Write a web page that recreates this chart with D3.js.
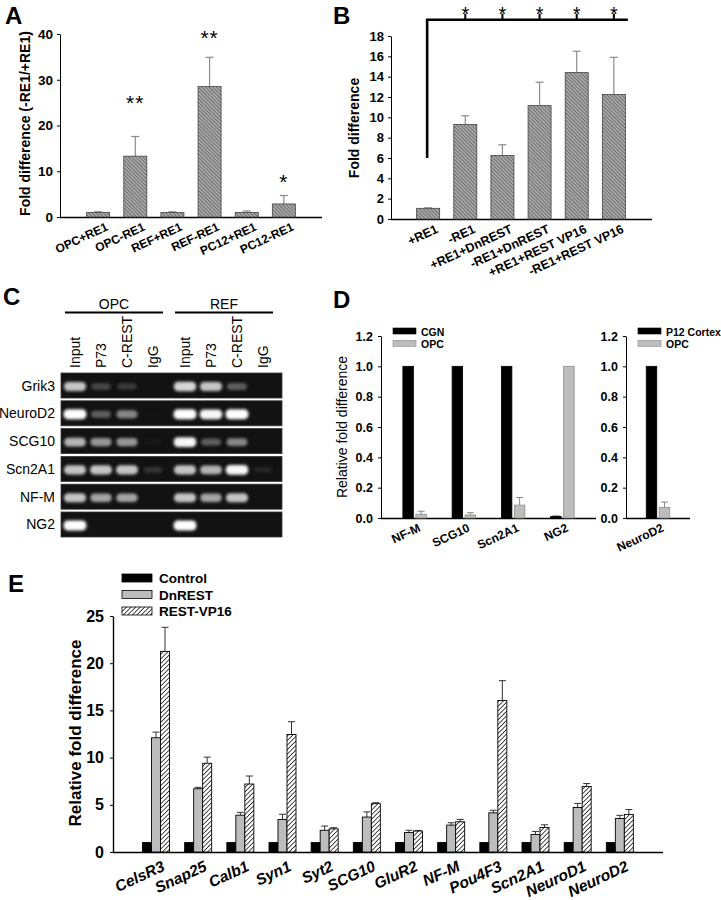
<!DOCTYPE html>
<html><head><meta charset="utf-8">
<script src="https://cdn.jsdelivr.net/npm/d3@7"></script>
<style>
body{margin:0;background:#fff}
svg{display:block}
text{font-family:Arial,"Liberation Sans",sans-serif;fill:#000}
</style>
</head><body>
<svg id="fig" width="721" height="900"></svg>
<script>
// ---------------- DATA ----------------
// Panel A
const catsA = ["OPC+RE1","OPC-RE1","REF+RE1","REF-RE1","PC12+RE1","PC12-RE1"];
const valsA = [1.0, 13.3, 1.0, 28.5, 1.0, 2.85];
const errTopA = [1.15, 17.6, 1.15, 34.9, 1.3, 4.7];
const starsA = ["", "**", "", "**", "", "*"];
const starLevelA = [null, 26.0, null, 40.3, null, 8.8];
const ticksA = [0, 10, 20, 30, 40];

// Panel B
const catsB = ["+RE1","-RE1","+RE1+DnREST","-RE1+DnREST","+RE1+REST VP16","-RE1+REST VP16"];
const valsB = [1.05, 9.3, 6.25, 11.15, 14.4, 12.25];
const errTopB = [1.1, 10.15, 7.3, 13.45, 16.5, 15.9];
const ticksB = [0, 2, 4, 6, 8, 10, 12, 14, 16, 18];
const bracketLowB = 6.0, bracketTopB = 19.6;

// Panel C (gel band intensities, 0..1)
const groupsC = ["OPC", "REF"];
const lanesC = ["Input", "P73", "C-REST", "IgG"];
const genesC = ["Grik3", "NeuroD2", "SCG10", "Scn2A1", "NF-M", "NG2"];
const bandsC = [
  [0.85, 0.4, 0.35, 0.0, 0.9, 0.85, 0.5, 0.0],
  [1.0, 0.5, 0.65, 0.05, 1.0, 0.95, 1.0, 0.0],
  [0.8, 0.7, 0.7, 0.1, 0.95, 0.5, 0.65, 0.0],
  [0.85, 0.85, 0.85, 0.3, 0.85, 0.8, 0.95, 0.22],
  [0.85, 0.75, 0.75, 0.0, 0.85, 0.75, 0.85, 0.0],
  [1.0, 0.0, 0.0, 0.0, 1.0, 0.0, 0.0, 0.0]
];

// Panel D
const catsD = ["NF-M", "SCG10", "Scn2A1", "NG2"];
const seriesD = ["CGN", "OPC"];
const cgnD = [1.0, 1.0, 1.0, 0.01];
const opcD = [0.025, 0.02, 0.085, 1.0];
const cgnErrTopD = [null, null, null, 0.015];
const opcErrTopD = [0.045, 0.035, 0.135, null];
const catsD2 = ["NeuroD2"];
const seriesD2 = ["P12 Cortex", "OPC"];
const cortexD2 = [1.0];
const opcD2 = [0.07];
const opcErrTopD2 = [0.105];
const ticksD = [0, 0.2, 0.4, 0.6, 0.8, 1.0, 1.2];

// Panel E
const genesE = ["CelsR3","Snap25","Calb1","Syn1","Syt2","SCG10","GluR2","NF-M","Pou4F3","Scn2A1","NeuroD1","NeuroD2"];
const seriesE = ["Control", "DnREST", "REST-VP16"];
const controlE = [1,1,1,1,1,1,1,1,1,1,1,1];
const dnrestE = [12.1, 6.7, 3.9, 3.45, 2.3, 3.7, 2.07, 2.85, 4.15, 1.85, 4.72, 3.55];
const dnrestErrE = [12.7, 6.85, 4.2, 4.0, 2.75, 4.25, 2.3, 3.1, 4.42, 2.18, 5.15, 3.88];
const vp16E = [21.25, 9.4, 7.2, 12.45, 2.45, 5.12, 2.22, 3.2, 16.05, 2.6, 6.95, 3.98];
const vp16ErrE = [23.8, 10.05, 8.05, 13.8, 2.58, 5.22, 2.28, 3.45, 18.15, 2.88, 7.25, 4.5];
const ticksE = [0, 5, 10, 15, 20, 25];

// ---------------- DRAWING ----------------
const svg = d3.select("#fig");
svg.append("rect").attr("width", 721).attr("height", 900).attr("fill", "#fff");
const defs = svg.append("defs");

function hatch(id, bg, fg, size, sw, angle) {
  const p = defs.append("pattern").attr("id", id).attr("patternUnits", "userSpaceOnUse")
    .attr("width", size).attr("height", size).attr("patternTransform", `rotate(${angle})`);
  p.append("rect").attr("width", size).attr("height", size).attr("fill", bg);
  p.append("line").attr("x1", 0).attr("y1", 0).attr("x2", 0).attr("y2", size)
    .attr("stroke", fg).attr("stroke-width", sw);
}
hatch("hatchAB", "#a9a9a9", "#4a4a4a", 2.6, 1.2, -45);
hatch("hatchE", "#ffffff", "#111111", 3.2, 1.5, 45);

const blur = defs.append("filter").attr("id", "bandBlur").attr("x", "-50%").attr("y", "-100%")
  .attr("width", "200%").attr("height", "300%");
blur.append("feGaussianBlur").attr("stdDeviation", 1.5);

function panelLetter(t, x, y) {
  svg.append("text").attr("x", x).attr("y", y).attr("font-size", 24).attr("font-weight", "bold").text(t);
}

function styleAxis(g, size, bold) {
  g.selectAll("text").attr("font-size", size).attr("font-weight", bold ? "bold" : "normal")
    .attr("font-family", "Arial, 'Liberation Sans', sans-serif").attr("fill", "#000");
  g.selectAll("path,line").attr("stroke", "#000");
}

// ---- Panel A ----
panelLetter("A", 5, 24);
{
  const y = d3.scaleLinear().domain([0, 40]).range([217, 34]);
  const x = d3.scaleBand().domain(catsA).range([61, 321]).paddingInner(0.38).paddingOuter(0.69);
  const g = svg.append("g");
  const ya = g.append("g").attr("transform", "translate(60,0)")
    .call(d3.axisLeft(y).tickValues(ticksA).tickSize(3).tickPadding(4).tickSizeOuter(0));
  styleAxis(ya, 13.5, true);
  g.append("line").attr("x1", 60).attr("x2", 322).attr("y1", 217.5).attr("y2", 217.5)
    .attr("stroke", "#000").attr("stroke-width", 1.3);
  catsA.forEach((c, i) => {
    const cx = x(c) + x.bandwidth() / 2;
    g.append("line").attr("x1", cx).attr("x2", cx).attr("y1", y(valsA[i])).attr("y2", y(errTopA[i]))
      .attr("stroke", "#8a8a8a").attr("stroke-width", 1.2);
    g.append("line").attr("x1", cx - 4).attr("x2", cx + 4).attr("y1", y(errTopA[i])).attr("y2", y(errTopA[i]))
      .attr("stroke", "#8a8a8a").attr("stroke-width", 1.2);
  });
  g.selectAll("rect.bar").data(catsA).join("rect").attr("class", "bar")
    .attr("x", d => x(d)).attr("width", x.bandwidth())
    .attr("y", (d, i) => y(valsA[i])).attr("height", (d, i) => y(0) - y(valsA[i]))
    .attr("fill", "url(#hatchAB)").attr("stroke", "#444").attr("stroke-width", 0.8);
  catsA.forEach((c, i) => {
    if (!starsA[i]) return;
    const cx = x(c) + x.bandwidth() / 2;
    g.append("text").attr("x", cx).attr("y", y(starLevelA[i]) + 12).attr("text-anchor", "middle")
      .attr("font-size", 21).attr("letter-spacing", 1).attr("fill", "#222").text(starsA[i]);
  });
  catsA.forEach((c, i) => {
    const cx = x(c) + x.bandwidth() / 2;
    g.append("text").attr("transform", `translate(${cx + 7},${222}) rotate(-25)`)
      .attr("text-anchor", "end").attr("dy", "0.71em").attr("font-size", 12).attr("font-weight", "bold").text(c);
  });
  g.append("text").attr("transform", `translate(30,${(34 + 217) / 2 - 2}) rotate(-90)`)
    .attr("text-anchor", "middle").attr("font-size", 14).attr("font-weight", "bold")
    .text("Fold difference (-RE1/+RE1)");
}

// ---- Panel B ----
panelLetter("B", 333, 24);
{
  const y = d3.scaleLinear().domain([0, 18]).range([219, 36]);
  const x = d3.scaleBand().domain(catsB).range([391, 651]).paddingInner(0.38).paddingOuter(0.69);
  const g = svg.append("g");
  const ya = g.append("g").attr("transform", "translate(391,0)")
    .call(d3.axisLeft(y).tickValues(ticksB).tickSize(3).tickPadding(4).tickSizeOuter(0));
  styleAxis(ya, 13, true);
  g.append("line").attr("x1", 391).attr("x2", 652).attr("y1", 219.5).attr("y2", 219.5)
    .attr("stroke", "#000").attr("stroke-width", 1.3);
  catsB.forEach((c, i) => {
    const cx = x(c) + x.bandwidth() / 2;
    g.append("line").attr("x1", cx).attr("x2", cx).attr("y1", y(valsB[i])).attr("y2", y(errTopB[i]))
      .attr("stroke", "#8a8a8a").attr("stroke-width", 1.2);
    g.append("line").attr("x1", cx - 4).attr("x2", cx + 4).attr("y1", y(errTopB[i])).attr("y2", y(errTopB[i]))
      .attr("stroke", "#8a8a8a").attr("stroke-width", 1.2);
  });
  g.selectAll("rect.bar").data(catsB).join("rect").attr("class", "bar")
    .attr("x", d => x(d)).attr("width", x.bandwidth())
    .attr("y", (d, i) => y(valsB[i])).attr("height", (d, i) => y(0) - y(valsB[i]))
    .attr("fill", "url(#hatchAB)").attr("stroke", "#444").attr("stroke-width", 0.8);
  // bracket
  const bx0 = x(catsB[0]) + x.bandwidth() / 2 - 1;
  const bx1 = x(catsB[5]) + x.bandwidth() / 2 + 14;
  g.append("path").attr("d", `M${bx0},${y(bracketLowB)}V${y(bracketTopB)}H${bx1}`)
    .attr("fill", "none").attr("stroke", "#000").attr("stroke-width", 2.6);
  catsB.slice(1).forEach(c => {
    const cx = x(c) + x.bandwidth() / 2;
    g.append("line").attr("x1", cx).attr("x2", cx).attr("y1", y(bracketTopB)).attr("y2", y(bracketTopB) - 6)
      .attr("stroke", "#000").attr("stroke-width", 2);
    g.append("text").attr("x", cx).attr("y", y(bracketTopB) + 1).attr("text-anchor", "middle")
      .attr("font-size", 20).attr("fill", "#222").text("*");
  });
  catsB.forEach((c, i) => {
    const cx = x(c) + x.bandwidth() / 2;
    g.append("text").attr("transform", `translate(${cx + 7},${224}) rotate(-25)`)
      .attr("text-anchor", "end").attr("dy", "0.71em").attr("font-size", 12.5).attr("font-weight", "bold").text(c);
  });
  g.append("text").attr("transform", `translate(359,128) rotate(-90)`)
    .attr("text-anchor", "middle").attr("font-size", 14).attr("font-weight", "bold").text("Fold difference");
}

// ---- Panel C (gel) ----
panelLetter("C", 3, 305);
{
  const gx = d3.scaleBand().domain(groupsC).range([62, 276]).paddingInner(0.055);
  const lx = d3.scaleBand().domain(lanesC).range([0, gx.bandwidth()]);
  const ry = d3.scaleBand().domain(genesC).range([373, 537]).paddingInner(0.1);
  const g = svg.append("g");
  groupsC.forEach(gr => {
    const x0 = gx(gr);
    g.append("text").attr("x", x0 + gx.bandwidth() / 2).attr("y", 309).attr("text-anchor", "middle")
      .attr("font-size", 14).text(gr);
    g.append("line").attr("x1", x0 + 3).attr("x2", x0 + gx.bandwidth() - 3).attr("y1", 312.5).attr("y2", 312.5)
      .attr("stroke", "#000").attr("stroke-width", 2.2);
    lanesC.forEach(l => {
      const cx = x0 + lx(l) + lx.bandwidth() / 2;
      g.append("text").attr("transform", `translate(${cx + 5},368) rotate(-90)`)
        .attr("font-size", 14).text(l);
    });
  });
  genesC.forEach((gene, r) => {
    const y0 = ry(gene), h = ry.bandwidth();
    g.append("rect").attr("x", 61).attr("y", y0).attr("width", 221).attr("height", h)
      .attr("fill", "#121212").attr("stroke", "#3a3a3a").attr("stroke-width", 0.8);
    g.append("text").attr("x", 55).attr("y", y0 + h / 2 + 5).attr("text-anchor", "end")
      .attr("font-size", 14).text(gene);
    groupsC.forEach((gr, gi) => {
      lanesC.forEach((l, li) => {
        const v = bandsC[r][gi * 4 + li];
        if (v <= 0) return;
        const cx = gx(gr) + lx(l) + lx.bandwidth() / 2;
        const w = 17 + 6 * v;
        const hh = 4 + 6 * v;
        g.append("rect").attr("x", cx - w / 2).attr("y", y0 + h / 2 - hh / 2 + 1)
          .attr("width", w).attr("height", hh).attr("rx", 4).attr("ry", hh / 2)
          .attr("fill", v > 0.9 ? "#fff" : "#f0f0f0").attr("opacity", Math.min(1, Math.pow(v, 1.6) * 1.05))
          .attr("filter", "url(#bandBlur)");
      });
    });
  });
}

// ---- Panel D ----
panelLetter("D", 333, 308);
{
  const y = d3.scaleLinear().domain([0, 1.2]).range([518, 336]);
  const g = svg.append("g");
  function drawBars(cats, xs, s1, s2, e1, e2, axisX, axisEnd, sNames, legendX) {
    const inner = d3.scaleBand().domain(sNames).range([xs.bandwidth() / 2 - 13, xs.bandwidth() / 2 + 13]);
    const bw = 10.5;
    const ya = g.append("g").attr("transform", `translate(${axisX},0)`)
      .call(d3.axisLeft(y).tickValues(ticksD).tickFormat(d3.format(".1f")).tickSize(3).tickPadding(5).tickSizeOuter(0));
    styleAxis(ya, 12.5, true);
    g.append("line").attr("x1", axisX).attr("x2", axisEnd).attr("y1", 518.5).attr("y2", 518.5)
      .attr("stroke", "#000").attr("stroke-width", 1.3);
    cats.forEach((c, i) => {
      [[s1, e1, "#000", "#000", sNames[0]], [s2, e2, "#bdbdbd", "#8c8c8c", sNames[1]]].forEach(([vals, errs, fill, stroke, sn]) => {
        const cx = xs(c) + inner(sn) + inner.bandwidth() / 2;
        if (errs[i] != null) {
          g.append("line").attr("x1", cx).attr("x2", cx).attr("y1", y(vals[i])).attr("y2", y(errs[i]))
            .attr("stroke", "#888").attr("stroke-width", 1);
          g.append("line").attr("x1", cx - 3.5).attr("x2", cx + 3.5).attr("y1", y(errs[i])).attr("y2", y(errs[i]))
            .attr("stroke", "#888").attr("stroke-width", 1);
        }
        g.append("rect").attr("x", cx - bw / 2).attr("width", bw)
          .attr("y", y(vals[i])).attr("height", Math.max(1, y(0) - y(vals[i])))
          .attr("fill", fill).attr("stroke", stroke).attr("stroke-width", 0.8);
      });
      const gc = xs(c) + xs.bandwidth() / 2;
      g.append("text").attr("transform", `translate(${gc + 3},${523}) rotate(-25)`)
        .attr("text-anchor", "end").attr("dy", "0.71em").attr("font-size", 12).attr("font-weight", "bold").text(c);
    });
    // legend
    sNames.forEach((sn, k) => {
      g.append("rect").attr("x", legendX).attr("y", 328 + k * 12.3).attr("width", 23).attr("height", 6)
        .attr("fill", k === 0 ? "#000" : "#bdbdbd").attr("stroke", k === 0 ? "#000" : "#8c8c8c").attr("stroke-width", 0.6);
      g.append("text").attr("x", legendX + 28).attr("y", 335.5 + k * 12.3).attr("font-size", 10.5)
        .attr("font-weight", "bold").text(sn);
    });
  }
  const xL = d3.scaleBand().domain(catsD).range([390, 587]);
  drawBars(catsD, xL, cgnD, opcD, cgnErrTopD, opcErrTopD, 381, 596, seriesD, 393);
  const xR = d3.scaleBand().domain(catsD2).range([634, 682]);
  drawBars(catsD2, xR, cortexD2, opcD2, [null], opcErrTopD2, 626, 690, seriesD2, 638);
  g.append("text").attr("transform", `translate(347,427) rotate(-90)`)
    .attr("text-anchor", "middle").attr("font-size", 14).text("Relative fold difference");
}

// ---- Panel E ----
panelLetter("E", 8, 592);
{
  const y = d3.scaleLinear().domain([0, 25]).range([852, 616]);
  const x = d3.scaleBand().domain(genesE).range([135, 641]);
  const inner = d3.scaleBand().domain(seriesE).range([7.5, 34.5]);
  const g = svg.append("g");
  const ya = g.append("g").attr("transform", "translate(113,0)")
    .call(d3.axisLeft(y).tickValues(ticksE).tickSize(3).tickPadding(6).tickSizeOuter(0));
  styleAxis(ya, 16, true);
  ya.select(".domain").attr("stroke-width", 1.4);
  g.append("line").attr("x1", 113).attr("x2", 663).attr("y1", 852.5).attr("y2", 852.5)
    .attr("stroke", "#000").attr("stroke-width", 1.6);
  const series = [
    {name: "Control", vals: controlE, errs: null, fill: "#000"},
    {name: "DnREST", vals: dnrestE, errs: dnrestErrE, fill: "#bdbdbd"},
    {name: "REST-VP16", vals: vp16E, errs: vp16ErrE, fill: "url(#hatchE)"}
  ];
  genesE.forEach((gene, i) => {
    series.forEach(s => {
      const bx = x(gene) + inner(s.name);
      const cx = bx + inner.bandwidth() / 2;
      if (s.errs) {
        g.append("line").attr("x1", cx).attr("x2", cx).attr("y1", y(s.vals[i])).attr("y2", y(s.errs[i]))
          .attr("stroke", "#333").attr("stroke-width", 1);
        g.append("line").attr("x1", cx - 3.5).attr("x2", cx + 3.5).attr("y1", y(s.errs[i])).attr("y2", y(s.errs[i]))
          .attr("stroke", "#333").attr("stroke-width", 1);
      }
      g.append("rect").attr("x", bx).attr("width", inner.bandwidth())
        .attr("y", y(s.vals[i])).attr("height", y(0) - y(s.vals[i]))
        .attr("fill", s.fill).attr("stroke", "#000").attr("stroke-width", 0.9);
    });
    const gc = x(gene) + x.bandwidth() / 2;
    g.append("text").attr("transform", `translate(${gc + 5},${860}) rotate(-25)`)
      .attr("text-anchor", "end").attr("dy", "0.71em").attr("font-size", 15.5).attr("font-weight", "bold")
      .attr("font-style", "italic").text(gene);
  });
  series.forEach((s, k) => {
    g.append("rect").attr("x", 122).attr("y", 574 + k * 16.5).attr("width", 30).attr("height", 8)
      .attr("fill", s.fill).attr("stroke", "#000").attr("stroke-width", 0.8);
    g.append("text").attr("x", 159).attr("y", 583 + k * 16.5).attr("font-size", 13.5)
      .attr("font-weight", "bold").text(s.name);
  });
  g.append("text").attr("transform", `translate(81,733) rotate(-90)`)
    .attr("text-anchor", "middle").attr("font-size", 17).attr("font-weight", "bold").text("Relative fold difference");
}
</script>
</body></html>
